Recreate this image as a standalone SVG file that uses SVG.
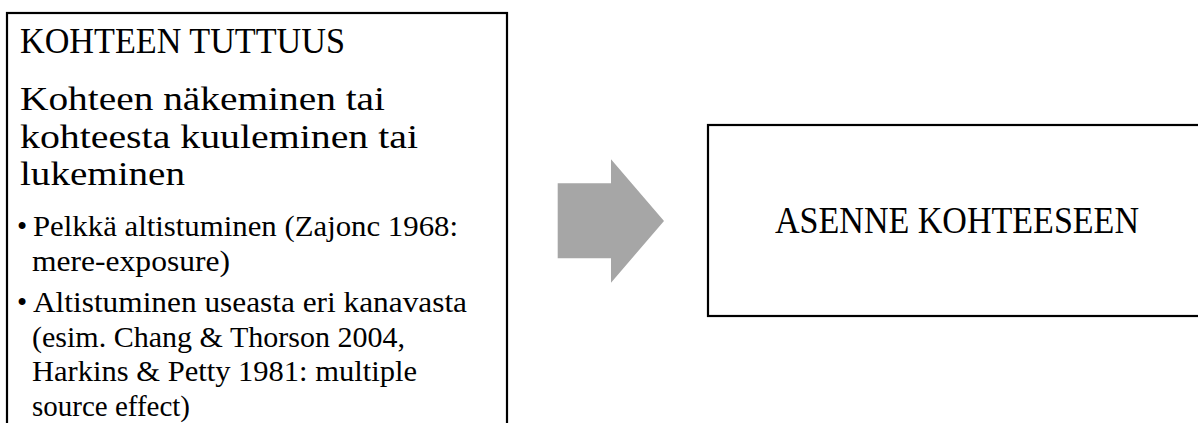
<svg xmlns="http://www.w3.org/2000/svg" width="1198" height="423" viewBox="0 0 1198 423">
  <style>
    .box { fill: #ffffff; stroke: #000000; stroke-width: 2.2; }
    .t { font-family: "Liberation Serif", "Times New Roman", serif; fill: #000000; }
    .title { font-size: 35px; }
    .big { font-size: 37px; }
    .mid { font-size: 33px; }
    .small { font-size: 29px; }
    .arrow { fill: #a6a6a6; }
  </style>
  <rect x="0" y="0" width="1198" height="423" fill="#ffffff"/>
  <g id="node-kohteen-tuttuus">
    <rect class="box" x="7" y="13" width="500" height="440"/>
    <text class="t title" x="20" y="53" textLength="325" lengthAdjust="spacingAndGlyphs">KOHTEEN TUTTUUS</text>
    <text class="t mid" x="20" y="110" textLength="365" lengthAdjust="spacingAndGlyphs">Kohteen näkeminen tai</text>
    <text class="t mid" x="20" y="147.5" textLength="398" lengthAdjust="spacingAndGlyphs">kohteesta kuuleminen tai</text>
    <text class="t mid" x="20" y="185" textLength="165" lengthAdjust="spacingAndGlyphs">lukeminen</text>
    <text class="t small" x="17" y="236">•</text>
    <text class="t small" x="33" y="236" textLength="425" lengthAdjust="spacingAndGlyphs">Pelkkä altistuminen (Zajonc 1968:</text>
    <text class="t small" x="32" y="270.5" textLength="198" lengthAdjust="spacingAndGlyphs">mere-exposure)</text>
    <text class="t small" x="17" y="312">•</text>
    <text class="t small" x="33" y="312" textLength="434" lengthAdjust="spacingAndGlyphs">Altistuminen useasta eri kanavasta</text>
    <text class="t small" x="32" y="346.5" textLength="373" lengthAdjust="spacingAndGlyphs">(esim. Chang &amp; Thorson 2004,</text>
    <text class="t small" x="32" y="381" textLength="385" lengthAdjust="spacingAndGlyphs">Harkins &amp; Petty 1981: multiple</text>
    <text class="t small" x="32" y="415.5" textLength="158" lengthAdjust="spacingAndGlyphs">source effect)</text>
  </g>
  <g id="connectors">
    <polygon class="arrow" points="557.7,183.3 611,183.3 611,159.3 664,221 611,282.7 611,258.3 557.7,258.3"/>
  </g>
  <g id="node-asenne-kohteeseen">
    <rect class="box" x="708" y="125" width="520" height="191"/>
    <text class="t big" x="775" y="233" textLength="364" lengthAdjust="spacingAndGlyphs">ASENNE KOHTEESEEN</text>
  </g>
</svg>
